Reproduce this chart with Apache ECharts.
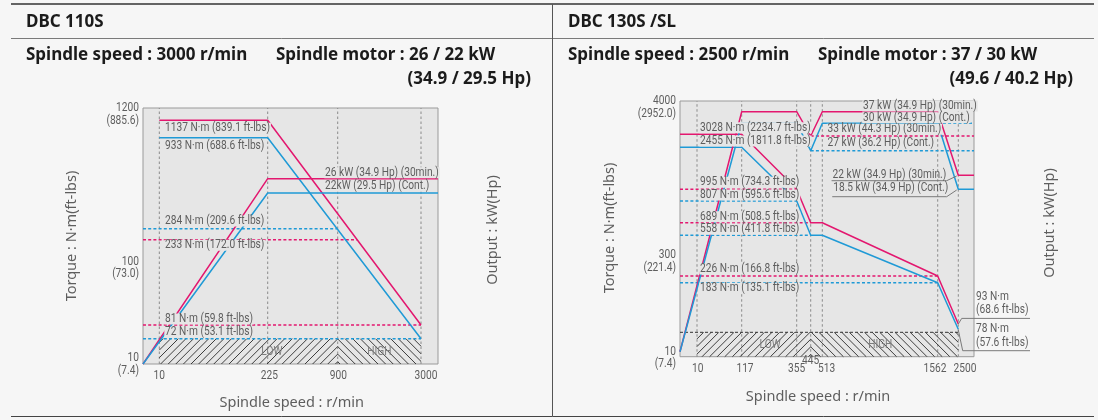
<!DOCTYPE html>
<html><head><meta charset="utf-8">
<script src="https://cdn.jsdelivr.net/npm/echarts@6/dist/echarts.min.js"></script>
<style>html,body{margin:0;padding:0;background:#f6f6f6}#c{width:1098px;height:420px}</style>
</head><body><div id="c"></div>
<script>
// ================= DATA : DBC 110S (left) =================
const L_speedTicks   = [10, 225, 900, 3000];
const L_torqueTicks  = [10, 100, 1200];
const L_torqueTickFt = ['(7.4)', '(73.0)', '(885.6)'];
const L_t30Speed  = [10, 225, 3000];
const L_t30       = [1137, 1137, 81];
const L_tCSpeed   = [10, 225, 3000];
const L_tC        = [933, 933, 72];
const L_p30Speed  = [0, 225, 3200];
const L_p30       = [0, 26, 26];
const L_pCSpeed   = [0, 225, 3200];
const L_pC        = [0, 22, 22];
const L_ref30     = [233, 81];      // dashed torque levels (30 min)
const L_refC      = [284, 72];      // dashed torque levels (cont.)
const L_refP30    = [];             // [from speed, kW]
const L_refPC     = [];
const L_gear      = [10, 900, 3000]; // LOW | HIGH boundaries
const L_gearTop   = 72;
const L_gearText  = [['LOW', 265], ['HIGH', 1950]];
const L_notes = [
  ['1137 N·m (839.1 ft-lbs)', 10, 1137, 'T'],
  ['933 N·m (688.6 ft-lbs)', 10, 933, 'T'],
  ['284 N·m (209.6 ft-lbs)', 10, 284, 'T'],
  ['233 N·m (172.0 ft-lbs)', 10, 233, 'T'],
  ['81 N·m (59.8 ft-lbs)', 10, 81, 'T'],
  ['72 N·m (53.1 ft-lbs)', 10, 72, 'T'],
  ['26 kW (34.9 Hp) (30min.)', 900, 26, 'P30'],
  ['22kW (29.5 Hp) (Cont.)', 900, 22, 'PC']
];
const L_callouts = [];
// schematic (non-proportional) axes of the original drawing: value -> axis unit
const L_axSpeed  = {v: [0, 10, 225, 900, 3000, 3200], u: [0, 16.3, 124.7, 194.7, 278, 295]};
const L_axTorque = {v: [0, 10, 72, 81, 100, 233, 284, 933, 1137, 1200], u: [0, 6, 25.3, 39, 102.3, 124.3, 135.3, 226.3, 243.7, 256]};
const L_axP30    = {v: [0, 22, 26], u: [0, 171, 185.3]};
const L_axPC     = {v: [0, 22, 26], u: [0, 171, 185.3]};

// ================= DATA : DBC 130S /SL (right) =================
const R_speedTicks   = [10, 117, 355, 445, 513, 1562, 2500];
const R_torqueTicks  = [10, 300, 4000];
const R_torqueTickFt = ['(7.4)', '(221.4)', '(2952.0)'];
const R_t30Speed  = [0, 117, 355, 445, 513, 1562, 2500];
const R_t30       = [3028, 3028, 995, 689, 689, 226, 93];
const R_tCSpeed   = [0, 117, 355, 445, 513, 1562, 2500];
const R_tC        = [2455, 2455, 807, 558, 558, 183, 78];
const R_p30Speed  = [0, 117, 355, 445, 513, 1562, 2500, 2650];
const R_p30       = [0, 37, 37, 33, 37, 37, 22, 22];
const R_pCSpeed   = [0, 117, 355, 445, 513, 1562, 2500, 2650];
const R_pC        = [0, 30, 30, 27, 30, 30, 18.5, 18.5];
const R_ref30     = [995, 689, 226];
const R_refC      = [807, 558, 183];
const R_refP30    = [[445, 33]];
const R_refPC     = [[445, 27], [1562, 30]];
const R_gear      = [10, 445, 2500];
const R_gearTop   = 69;
const R_gearText  = [['LOW', 240], ['HIGH', 1040]];
const R_notes = [
  ['3028 N·m (2234.7 ft-lbs)', 10, 3028, 'T'],
  ['2455 N·m (1811.8 ft-lbs)', 10, 2455, 'T'],
  ['995 N·m (734.3 ft-lbs)', 10, 995, 'T'],
  ['807 N·m (595.6 ft-lbs)', 10, 807, 'T'],
  ['689 N·m (508.5 ft-lbs)', 10, 689, 'T'],
  ['558 N·m (411.8 ft-lbs)', 10, 558, 'T'],
  ['226 N·m (166.8 ft-lbs)', 10, 226, 'T'],
  ['183 N·m (135.1 ft-lbs)', 10, 183, 'T'],
  ['33 kW (44.3 Hp) (30min.)', 513, 33, 'P30'],
  ['27 kW (36.2 Hp) (Cont.)', 513, 27, 'PC'],
  ['37 kW (34.9 Hp) (30min.)', 513, 37, 'P30'],
  ['30 kW (34.9 Hp) (Cont.)', 513, 30, 'PC']
];
const R_callouts = [
  ['22 kW (34.9 Hp) (30min.)', 2500, 22, 'P30'],
  ['18.5 kW (34.9 Hp) (Cont.)', 2500, 18.5, 'PC'],
  ['93 N·m\n(68.6 ft-lbs)', 2500, 93, 'T'],
  ['78 N·m\n(57.6 ft-lbs)', 2500, 78, 'T']
];
const R_axSpeed  = {v: [0, 10, 117, 355, 445, 513, 1562, 2500, 2650], u: [0, 17, 61.7, 116.7, 130.7, 142.3, 257.7, 278.3, 294]};
const R_axTorque = {v: [0, 10, 69, 78, 93, 183, 226, 300, 558, 689, 807, 995, 2455, 3028, 4000], u: [0, 5, 24.4, 27.4, 32.7, 74, 80.7, 101.7, 121.4, 134, 155.7, 167.4, 209.4, 222.4, 255.7]};
const R_axP30    = {v: [0, 22, 33, 37], u: [5, 181.4, 220.7, 245]};
const R_axPC     = {v: [0, 18.5, 27, 30], u: [5, 167.4, 206, 233.4]};

// ================= LAYOUT / STYLE =================
const PINK = '#e3176f', BLUE = '#1f9ad6', PLOTBG = '#e6e6e6', TXT = '#5e5e5e';
const L_layout = {grid: {left: 143, top: 108, width: 295, height: 256},
  tickNudge: [[0,0],[1.6,0],[0.6,0],[5,0]],
  noteOff: [[5,8],[5,8.3],[5,-7.7],[5,5.5],[5,-6],[5,-6.4],[-13.4,-6],[-13.4,-7]],
  callStyle: [], gearDash: false};
const R_layout = {grid: {left: 680, top: 101, width: 294, height: 255.7},
  tickNudge: [[0.7,0],[3.3,0],[0,0],[0,-7.6],[4.4,0],[-2.7,0],[6.7,0]],
  noteOff: [[2.3,-6.6],[2.3,-6.3],[2.3,-7],[2.3,-6],[2.3,-6],[2.3,-6],[2.3,-7],[2.3,5.6],[4.4,-6.7],[4.4,-7.4],[40,-5.7],[40,-5.6]],
  callStyle: [
    {pts: [[-1.6,0.7],[-11.6,5.4]], ul: 'left', text: [-12, 6.7], align: 'right'},
    {pts: [[-1.6,0.7],[-11.6,7.4]], ul: 'left', text: [-10, 5.5], align: 'right'},
    {pts: [[0,0],[3.4,-5.6],[71.7,-5.6]], text: [17.7,-7.5], align: 'left'},
    {pts: [[0,0.7],[4.4,21.4],[71.7,21.4]], text: [17.7,20], align: 'left'}
  ], gearDash: true};

// ---- fonts: condensed look by horizontal scaling of a regular face ----
const cctx = document.createElement('canvas').getContext('2d');
function tw(font, s) { cctx.font = font; return cctx.measureText(s).width; }
function has(f) { const s = 'mmmmmmmmmmlli1WQ0123'; return tw('50px monospace', s) !== tw('50px "' + f + '", monospace', s); }
const NF = ['Roboto', 'Liberation Sans', 'Noto Sans'].find(has) || 'sans-serif';
const NFS = 12.5;
const NFONT = NFS + 'px "' + NF + '"';
const SC = Math.min(1, 105 / tw(NFONT, '1137 N·m (839.1 ft-lbs)'));
const MF = 'Noto Sans';

function mk(ax) {
  return v => {
    const a = ax.v, u = ax.u;
    if (v <= a[0]) return u[0];
    for (let i = 1; i < a.length; i++) if (v <= a[i]) return u[i-1] + (u[i]-u[i-1]) * (v - a[i-1]) / (a[i] - a[i-1]);
    return u[u.length-1];
  };
}
function crossU(pts, y) {
  for (let i = 1; i < pts.length; i++) {
    const y0 = pts[i-1][1], y1 = pts[i][1];
    if ((y0 - y) * (y1 - y) <= 0 && y0 !== y1) return pts[i-1][0] + (pts[i][0] - pts[i-1][0]) * (y - y0) / (y1 - y0);
  }
  return pts[pts.length-1][0];
}

const series = [], grids = [], xAxes = [], yAxes = [];

// text marks anchored at axis coordinates
function texts(base, items, z) {
  series.push(Object.assign({type: 'custom', z, clip: false,
    data: items.map(t => [t.x, t.y]),
    renderItem: (p, api) => {
      const c = api.coord([api.value(0), api.value(1)]);
      const t = items[p.dataIndex];
      const st = {text: t.text, fill: t.color || TXT, font: NFONT, align: t.align, verticalAlign: t.va, lineHeight: t.lh || 12.4};
      if (t.bg) { st.backgroundColor = t.bg; st.padding = [0, 1]; }
      return {type: 'text', x: c[0] + t.dx, y: c[1] + t.dy, scaleX: SC, style: st};
    }}, base));
}

function panel(k, D, Y) {
  const sx = mk(D.axSpeed);
  const S = {T: mk(D.axTorque), P30: mk(D.axP30), PC: mk(D.axPC)};
  const W = D.axSpeed.u[D.axSpeed.u.length-1], H = D.axTorque.u[D.axTorque.u.length-1];
  grids.push(Object.assign({show: true, backgroundColor: PLOTBG, borderColor: '#9a9a9a', borderWidth: 1, containLabel: false}, Y.grid));
  xAxes.push({gridIndex: k, type: 'value', min: 0, max: W, show: false});
  yAxes.push({gridIndex: k, type: 'value', min: 0, max: H, show: false});
  const base = {xAxisIndex: k, yAxisIndex: k, silent: true, animation: false};
  const pts = (sp, vals, key) => sp.map((s, i) => [sx(s), S[key](vals[i])]);

  // vertical dashed grid lines at speed ticks
  series.push(Object.assign({type: 'custom', z: 1, clip: false,
    data: D.speedTicks.map(s => [sx(s), 0]),
    renderItem: (p, api) => {
      const a = api.coord([api.value(0), 0]), b = api.coord([api.value(0), H]);
      return {type: 'line', shape: {x1: a[0], y1: a[1], x2: b[0], y2: b[1]}, style: {stroke: '#8a8a8a', lineWidth: 1, lineDash: [2.5, 2.5]}};
    }}, base));

  // gear range hatching
  series.push(Object.assign({type: 'custom', z: 2, clip: false,
    data: [[sx(D.gear[0]), sx(D.gear[1]), sx(D.gear[2]), S.T(D.gearTop)]],
    renderItem: (p, api) => {
      const a = api.coord([api.value(0), 0]), m = api.coord([api.value(1), 0]), b = api.coord([api.value(2), 0]);
      const t = api.coord([api.value(0), api.value(3)]);
      const x0 = a[0], xm = m[0], x1 = b[0], yb = a[1], yt = t[1], h = yb - yt, step = 7.6;
      const ch = [];
      const st = {stroke: '#2a2a2a', lineWidth: 0.9};
      const lo = Math.min(x0, 2 * xm - x1) - h;
      for (let c = xm - step * 0.3; c > lo; c -= step) {
        let xa = Math.max(c, x0), xb = Math.min(c + h, xm);
        if (xb > xa) ch.push({type: 'line', shape: {x1: xa, y1: yb - (xa - c), x2: xb, y2: yb - (xb - c)}, style: st});
        xa = Math.max(c, 2 * xm - x1); xb = Math.min(c + h, xm);
        if (xb > xa) ch.push({type: 'line', shape: {x1: 2 * xm - xa, y1: yb - (xa - c), x2: 2 * xm - xb, y2: yb - (xb - c)}, style: st});
      }
      return {type: 'group', children: ch};
    }}, base));
  if (Y.gearDash) {
    series.push(Object.assign({type: 'line', z: 3, clip: false, symbol: 'none',
      data: [[0, S.T(D.gearTop)], [sx(D.gear[2]), S.T(D.gearTop)]],
      lineStyle: {color: '#333', width: 1, type: [3, 2]}}, base));
  }

  const t30 = pts(D.t30Speed, D.t30, 'T'), tC = pts(D.tCSpeed, D.tC, 'T');
  const p30 = pts(D.p30Speed, D.p30, 'P30'), pC = pts(D.pCSpeed, D.pC, 'PC');
  const dash = (data, color) => series.push(Object.assign({type: 'line', z: 3, clip: false, symbol: 'none', data,
    lineStyle: {color, width: 1.5, type: [3, 2.2]}}, base));
  D.ref30.forEach(v => { const y = S.T(v); dash([[0, y], [crossU(t30, y), y]], PINK); });
  D.refC.forEach(v => { const y = S.T(v); dash([[0, y], [crossU(tC, y), y]], BLUE); });
  D.refP30.forEach(r => { const y = S.P30(r[1]); dash([[sx(r[0]), y], [W, y]], PINK); });
  D.refPC.forEach(r => { const y = S.PC(r[1]); dash([[sx(r[0]), y], [W, y]], BLUE); });

  [[t30, PINK], [tC, BLUE], [p30, PINK], [pC, BLUE]].forEach(([d, c]) =>
    series.push(Object.assign({type: 'line', z: 4, clip: false, symbol: 'none', data: d,
      lineStyle: {color: c, width: 1.5}}, base)));

  // notes (with background that hides lines behind them)
  texts(base, D.notes.map((n, i) => ({x: sx(n[1]), y: S[n[3]](n[2]), text: n[0],
    dx: Y.noteOff[i][0], dy: Y.noteOff[i][1], align: 'left', va: 'middle', bg: PLOTBG, lh: 11})), 6);
  // gear labels
  texts(base, D.gearText.map(g => ({x: sx(g[1]), y: S.T(D.gearTop) / 2, text: g[0],
    dx: 0, dy: 0.5, align: 'center', va: 'middle', color: '#7c7c7c'})), 6);
  // x tick labels
  texts(base, D.speedTicks.map((s, i) => ({x: sx(s), y: 0, text: String(s),
    dx: Y.tickNudge[i][0], dy: 5.5 + Y.tickNudge[i][1], align: 'center', va: 'top'})), 6);
  // y tick labels (N·m over ft-lbs)
  texts(base, D.torqueTicks.map((t, i) => ({x: 0, y: S.T(t), text: t + '\n' + D.torqueTickFt[i],
    dx: -4, dy: -6.2, align: 'right', va: 'top', lh: 12.4})), 6);

  // callouts with leader lines
  if (D.callouts.length) {
    series.push(Object.assign({type: 'custom', z: 7, clip: false,
      data: D.callouts.map(c => [sx(c[1]), S[c[3]](c[2])]),
      renderItem: (p, api) => {
        const c = api.coord([api.value(0), api.value(1)]);
        const i = p.dataIndex, cs = Y.callStyle[i], txt = D.callouts[i][0];
        const pl = cs.pts.map(q => [c[0] + q[0], c[1] + q[1]]);
        if (cs.ul === 'left') {
          const w = tw(NFONT, txt) * SC;
          const last = pl[pl.length-1];
          pl.push([c[0] + cs.text[0] - w - 1, last[1]]);
        }
        return {type: 'group', children: [
          {type: 'polyline', shape: {points: pl}, style: {stroke: '#7a7a7a', lineWidth: 1, fill: null}},
          {type: 'text', x: c[0] + cs.text[0], y: c[1] + cs.text[1], scaleX: SC,
            style: {text: txt, fill: TXT, font: NFONT, align: cs.align, verticalAlign: 'bottom', lineHeight: 13.3}}
        ]};
      }}, base));
  }
}

panel(0, {axSpeed: L_axSpeed, axTorque: L_axTorque, axP30: L_axP30, axPC: L_axPC,
  speedTicks: L_speedTicks, torqueTicks: L_torqueTicks, torqueTickFt: L_torqueTickFt,
  t30Speed: L_t30Speed, t30: L_t30, tCSpeed: L_tCSpeed, tC: L_tC,
  p30Speed: L_p30Speed, p30: L_p30, pCSpeed: L_pCSpeed, pC: L_pC,
  ref30: L_ref30, refC: L_refC, refP30: L_refP30, refPC: L_refPC,
  gear: L_gear, gearTop: L_gearTop, gearText: L_gearText, notes: L_notes, callouts: L_callouts}, L_layout);
panel(1, {axSpeed: R_axSpeed, axTorque: R_axTorque, axP30: R_axP30, axPC: R_axPC,
  speedTicks: R_speedTicks, torqueTicks: R_torqueTicks, torqueTickFt: R_torqueTickFt,
  t30Speed: R_t30Speed, t30: R_t30, tCSpeed: R_tCSpeed, tC: R_tC,
  p30Speed: R_p30Speed, p30: R_p30, pCSpeed: R_pCSpeed, pC: R_pC,
  ref30: R_ref30, refC: R_refC, refP30: R_refP30, refPC: R_refPC,
  gear: R_gear, gearTop: R_gearTop, gearText: R_gearText, notes: R_notes, callouts: R_callouts}, R_layout);

const hdr = (text, x, y, align) => ({type: 'text', x, y, silent: true,
  style: {text, fill: '#1b1b1b', font: 'bold 17px "' + MF + '"', align: align || 'left', verticalAlign: 'middle'}});
const axn = (text, x, y, rot) => ({type: 'text', x, y, rotation: rot || 0, silent: true,
  style: {text, fill: TXT, font: '14.5px "' + MF + '"', align: 'center', verticalAlign: 'middle'}});
const ln = (x1, y1, x2, y2, c, w) => ({type: 'line', silent: true, shape: {x1, y1, x2, y2}, style: {stroke: c, lineWidth: w}});

const chart = echarts.init(document.getElementById('c'), null, {width: 1098, height: 420});
chart.setOption({
  animation: false,
  backgroundColor: '#f6f6f6',
  grid: grids, xAxis: xAxes, yAxis: yAxes, series,
  graphic: [
    ln(11, 4, 1094, 4, '#333', 1.5),
    ln(11, 38.5, 1094, 38.5, '#7a7a7a', 1),
    ln(11, 416.5, 1094, 416.5, '#444', 1),
    ln(552.5, 4, 552.5, 416.5, '#555', 1),
    hdr('DBC 110S', 26, 22), hdr('Spindle speed : 3000 r/min', 26, 55), hdr('Spindle motor : 26 / 22 kW', 276, 55),
    hdr('(34.9 / 29.5 Hp)', 531, 79, 'right'),
    hdr('DBC 130S /SL', 568, 22), hdr('Spindle speed : 2500 r/min', 568, 55), hdr('Spindle motor : 37 / 30 kW', 818, 55),
    hdr('(49.6 / 40.2 Hp)', 1073, 79, 'right'),
    axn('Spindle speed : r/min', 291.7, 403.3), axn('Spindle speed : r/min', 818, 396.7),
    axn('Torque : N·m(ft-lbs)', 71.7, 236, Math.PI / 2), axn('Torque : N·m(ft-lbs)', 610, 228, Math.PI / 2),
    axn('Output : kW(Hp)', 493, 230, Math.PI / 2), axn('Output : kW(Hp)', 1050, 223, Math.PI / 2)
  ]
});
</script></body></html>
